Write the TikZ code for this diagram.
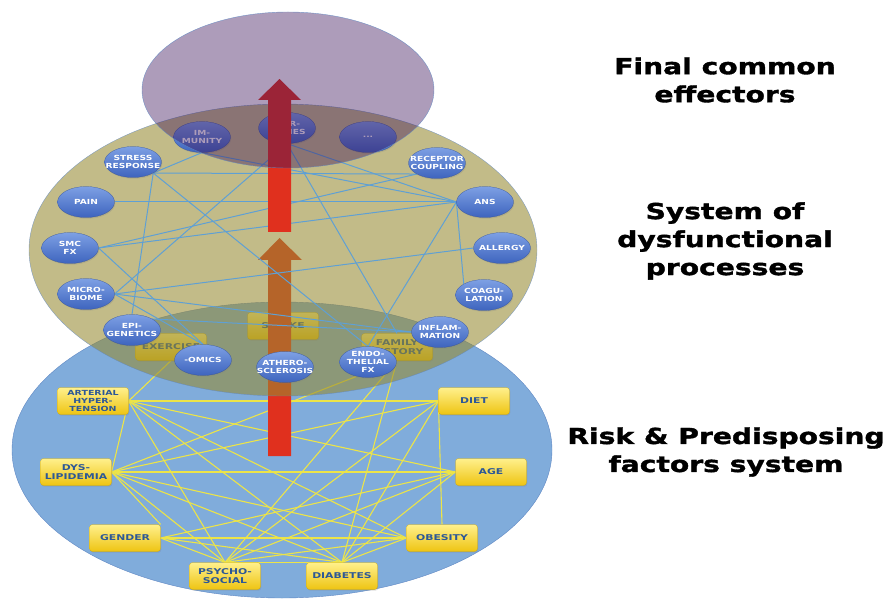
\documentclass[tikz,border=0pt]{standalone}
\usepackage{fontspec}
\usepackage{tikz}
\usetikzlibrary{shapes.geometric,shadows}
\newfontfamily\boxfont{DejaVu Sans Bold}[FakeStretch=1.35]
\newfontfamily\procfont{DejaVu Sans Bold}[FakeStretch=1.3]
\newfontfamily\headfont{DejaVu Sans Bold}[FakeStretch=1.28, FakeBold=1.6]

\definecolor{riskblue}{RGB}{128,172,219}
\definecolor{rimblue}{RGB}{95,135,195}
\definecolor{dysolive}{RGB}{150,138,50}
\definecolor{effpurple}{RGB}{60,20,90}
\definecolor{arrowred}{RGB}{224,48,30}
\definecolor{ylinkc}{RGB}{236,228,72}
\definecolor{blinkc}{RGB}{95,160,212}
\definecolor{boxtop}{RGB}{255,240,140}
\definecolor{boxbot}{RGB}{238,196,18}
\definecolor{boxtext}{RGB}{45,88,150}
\definecolor{proctop}{RGB}{125,160,228}
\definecolor{procbot}{RGB}{62,100,190}

\pgfdeclarelayer{risk}
\pgfdeclarelayer{ylinks}
\pgfdeclarelayer{yboxes}
\pgfdeclarelayer{lowarrow}
\pgfdeclarelayer{dysfn}
\pgfdeclarelayer{blinks}
\pgfsetlayers{risk,ylinks,yboxes,lowarrow,dysfn,blinks,main}

\tikzset{
  factor/.style={
    shape = rectangle,
    rounded corners = 3pt,
    minimum width = 71,
    minimum height = 27,
    inner sep = 1pt,
    top color = boxtop,
    bottom color = boxbot,
    draw = boxbot!85!black,
    very thin,
    drop shadow = {opacity=0.25, shadow xshift=0.8pt, shadow yshift=-1.2pt},
    text = boxtext,
    align = center,
    font = \boxfont\fontsize{8}{9.5}\selectfont
  },
  process/.style={
    shape = ellipse,
    minimum width = 57,
    minimum height = 31,
    inner xsep = -12pt,
    inner ysep = -6pt,
    top color = proctop,
    bottom color = procbot,
    draw = procbot!80!black,
    very thin,
    drop shadow = {opacity=0.25, shadow xshift=0.8pt, shadow yshift=-1.2pt},
    text = white,
    align = center,
    font = \procfont\fontsize{7}{8.3}\selectfont
  },
  ylink/.style={ylinkc, line width=1.1pt},
  blink/.style={blinkc, line width=1pt},
  caption/.style={
    align = center,
    font = \headfont\fontsize{22}{28}\selectfont
  }
}

\begin{document}
\begin{tikzpicture}[x=1pt,y=-1pt]
    \useasboundingbox (0,0) rectangle (891,601);
    \def\shl{268}
    \def\shr{291}
    % risk & predisposing factors
    \begin{pgfonlayer}{risk}
      \filldraw[fill=riskblue, draw=rimblue, thin] (282,450) ellipse (270 and 148);
    \end{pgfonlayer}
    \begin{pgfonlayer}{yboxes}
      \node[factor] (exercise) at (171,347) {EXERCISE};
      \node[factor] (smoke) at (283,326) {SMOKE};
      \node[factor] (family) at (397,347) {FAMILY\\HISTORY};
      \node[factor, font=\boxfont\fontsize{7}{8.3}\selectfont] (arterial) at (93,401) {ARTERIAL\\HYPER-\\TENSION};
      \node[factor] (dys) at (76,472) {DYS-\\LIPIDEMIA};
      \node[factor] (gender) at (125,538) {GENDER};
      \node[factor] (psycho) at (225,576) {PSYCHO-\\SOCIAL};
      \node[factor] (diabetes) at (342,576) {DIABETES};
      \node[factor] (obesity) at (442,538) {OBESITY};
      \node[factor] (age) at (491,472) {AGE};
      \node[factor] (diet) at (474,401) {DIET};
    \end{pgfonlayer}
    \begin{pgfonlayer}{lowarrow}
      \fill[arrowred] (\shl,456) -- (\shl,260) -- (258,260) -- (279.5,238)
        -- (302,260) -- (\shr,260) -- (\shr,456) -- cycle;
    \end{pgfonlayer}
    % dysfunctional processes
    \begin{pgfonlayer}{dysfn}
      \filldraw[fill=dysolive, fill opacity=0.58, draw=rimblue, draw opacity=0.7, thin]
        (283,250) ellipse (254 and 146);
    \end{pgfonlayer}
    \node[process] (immunity) at (202,137) {IM-\\MUNITY};
    \node[process] (hormones) at (287,128) {HOR-\\MONES};
    \node[process] (more) at (368,137) {...};
    \node[process] (stress) at (133,162) {STRESS\\RESPONSE};
    \node[process] (receptor) at (437,163) {RECEPTOR\\COUPLING};
    \node[process] (pain) at (86,202) {PAIN};
    \node[process] (ans) at (485,202) {ANS};
    \node[process] (smc) at (70,248) {SMC\\FX};
    \node[process] (allergy) at (502,248) {ALLERGY};
    \node[process] (micro) at (86,294) {MICRO-\\BIOME};
    \node[process] (coag) at (484,295) {COAGU-\\LATION};
    \node[process] (epi) at (132,330) {EPI-\\GENETICS};
    \node[process] (inflam) at (440,332) {INFLAM-\\MATION};
    \node[process] (omics) at (203,360) {-OMICS};
    \node[process] (athero) at (285,367) {ATHERO-\\SCLEROSIS};
    \node[process] (endo) at (368,362) {ENDO-\\THELIAL\\FX};
    % links between factors
    \begin{pgfonlayer}{ylinks}
      \foreach \a/\b in {arterial.east/dys.east, arterial.east/diet.west, arterial.east/age.west,
        arterial.east/obesity.west, arterial.east/diabetes.north, arterial.east/psycho.north,
        arterial.east/exercise.south, dys.east/diet.west, dys.east/age.west, dys.east/obesity.west,
        dys.east/diabetes.north, dys.east/psycho.north, dys.east/gender.north east, dys.east/family.south,
        gender.east/obesity.west, gender.east/diabetes.north, gender.east/psycho.north, gender.east/age.west,
        psycho.north/diet.west, psycho.north/age.west, psycho.north/obesity.west, psycho.north/diabetes.north,
        psycho.north/family.south, diabetes.north/diet.west, diabetes.north/age.west,
        diabetes.north/obesity.west, diabetes.north/family.south, obesity.north/diet.west}
        \draw[ylink] (\a) -- (\b);
    \end{pgfonlayer}
    % links between processes
    \begin{pgfonlayer}{blinks}
      \foreach \a/\b in {stress.south east/receptor.south west, stress.south east/endo.north,
        stress.south east/epi.north, stress.south east/immunity.south, pain.east/ans.west,
        smc.east/receptor.south west, smc.east/ans.west, smc.east/omics.north,
        micro.east/hormones.south, micro.east/allergy.west, micro.east/inflam.west,
        micro.east/omics.north, epi.north east/inflam.west, ans.west/coag.north west,
        ans.west/endo.north, ans.west/hormones.south, ans.west/immunity.south,
        hormones.south/family.north}
        \draw[blink] (\a) -- (\b);
    \end{pgfonlayer}
    % upper arrow and final common effectors
    \fill[arrowred] (\shl,232) -- (\shl,100) -- (258,100) -- (279.5,79)
      -- (301,100) -- (\shr,100) -- (\shr,232) -- cycle;
    \filldraw[fill=effpurple, fill opacity=0.42, draw=rimblue, draw opacity=0.8, thin]
      (288,90) ellipse (146 and 78);
    \node[caption] (lfinal) at (725,80) {Final common\\effectors};
    \node[caption] (lsystem) at (725,241) {System of\\dysfunctional\\processes};
    \node[caption] (lrisk) at (726,452) {Risk \& Predisposing\\factors system};
\end{tikzpicture}
\end{document}
